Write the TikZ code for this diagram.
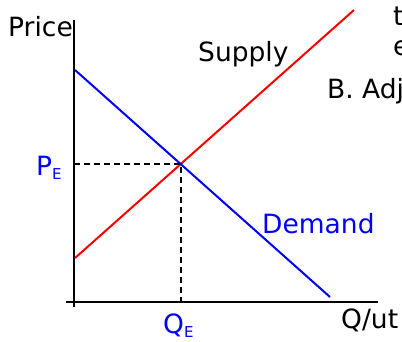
\documentclass[tikz,border=0pt]{standalone}
\usepackage{fontspec}
\setmainfont{DejaVu Sans}
\newcommand{\subE}{\raisebox{-4pt}{\fontsize{15}{15}\selectfont E}}
\begin{document}
\begin{tikzpicture}[x=1pt,y=-1pt,every node/.style={inner sep=0pt,anchor=base west,font=\fontsize{26.5}{30}\selectfont}]
	\useasboundingbox (0,0) rectangle (402,341);
	
	\coordinate (ytop) at (74,20);
	\coordinate (ybot) at (74,307);
	\coordinate (xleft) at (66,302);
	\coordinate (xright) at (378,302);
	\coordinate (s0) at (75,258);
	\coordinate (s1) at (354,10);
	\coordinate (d0) at (75,70);
	\coordinate (d1) at (330,297);
	\coordinate (eq) at (intersection of d0--d1 and s0--s1);
	\coordinate (peq) at (ytop |- eq);
	\coordinate (qeq) at (eq |- xleft);
	
	\draw[line width=2.2pt] (ytop) -- (ybot);
	\draw[line width=2.2pt] (xleft) -- (xright);
	\draw[red,line width=2pt] (s0) -- (s1);%offre
	\draw[blue,line width=2pt] (d0) -- (d1);%demande
	\draw[line width=1.8pt,dash pattern=on 6pt off 4pt] (peq) -- (eq) -- (qeq);
	
	\node (price) at (8,36) {Price};
	\node (supply) at (198,61) {Supply};
	\node[blue] (demand) at (262,233) {Demand};
	\node[blue] (pe) at (36,175) {P\subE};
	\node[blue] (qe) at (163,333) {Q\subE};
	\node (qut) at (341,328) {Q/ut};
	
	\node (t1) at (393,25) {t};
	\node (t2) at (393,55) {e};
	\node (adj) at (327,98) {B. Adju};
\end{tikzpicture}
\end{document}
